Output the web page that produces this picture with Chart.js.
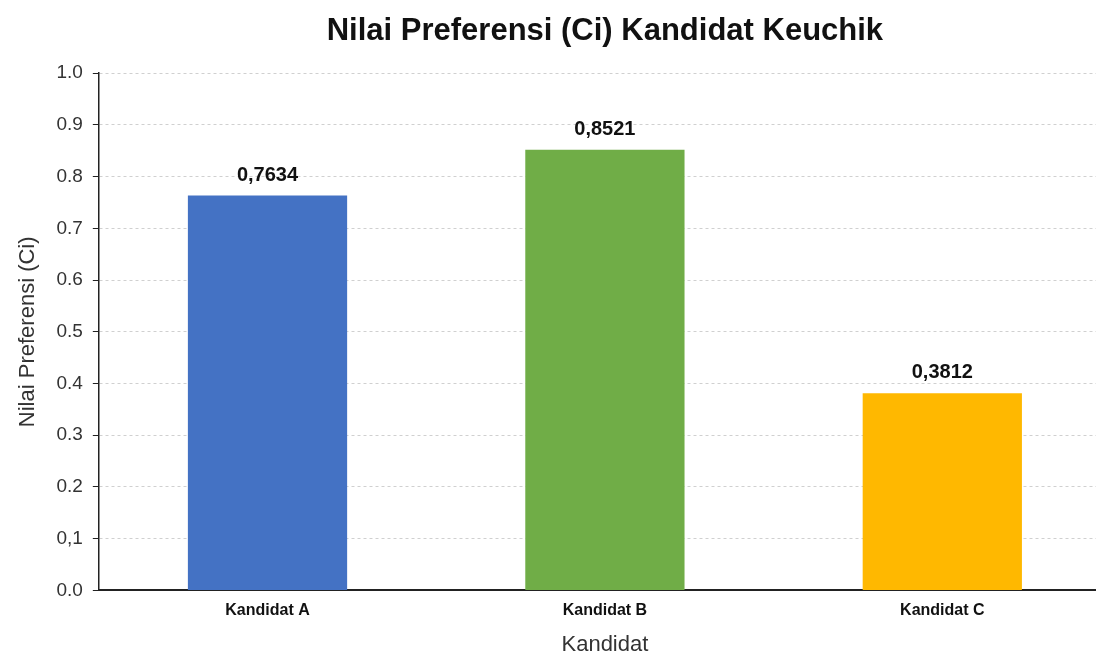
<!DOCTYPE html>
<html>
<head>
<meta charset="utf-8">
<script src="https://cdn.jsdelivr.net/npm/chart.js@4.4.1/dist/chart.umd.min.js"></script>
<style>
html,body{margin:0;padding:0;background:#fff;overflow:hidden;width:1096px;height:655px;}
#wrap{width:1111px;height:655px;}
</style>
</head>
<body>
<div id="wrap"><canvas id="c" width="1111" height="655"></canvas></div>
<script>
const categories = ['Kandidat A', 'Kandidat B', 'Kandidat C'];
const values = [0.7634, 0.8521, 0.3812];
const valueLabels = ['0,7634', '0,8521', '0,3812'];
const barColors = ['#4472C4', '#70AD47', '#FFB800'];
const tickLabels = ['0.0', '0,1', '0.2', '0.3', '0.4', '0.5', '0.6', '0.7', '0.8', '0.9', '1.0'];

const FONT = '"Liberation Sans", Arial, Helvetica, sans-serif';

const valueLabelPlugin = {
  id: 'valueLabels',
  afterDatasetsDraw(chart) {
    const ctx = chart.ctx;
    const meta = chart.getDatasetMeta(0);
    ctx.save();
    ctx.font = 'bold 20px ' + FONT;
    ctx.fillStyle = '#111';
    ctx.textAlign = 'center';
    ctx.textBaseline = 'alphabetic';
    meta.data.forEach((bar, i) => {
      ctx.fillText(valueLabels[i], bar.x, bar.y - 15);
    });
    ctx.restore();
  }
};

new Chart(document.getElementById('c'), {
  type: 'bar',
  data: {
    labels: categories,
    datasets: [{
      data: values,
      backgroundColor: barColors,
      borderWidth: 0,
      barPercentage: 0.944,
      categoryPercentage: 0.5
    }]
  },
  options: {
    responsive: false,
    animation: false,
    layout: { padding: { left: 6, right: 0, top: 0, bottom: -3 } },
    plugins: {
      legend: { display: false },
      tooltip: { enabled: false },
      title: {
        display: true,
        fullSize: false,
        text: 'Nilai Preferensi (Ci) Kandidat Keuchik',
        color: '#111',
        font: { family: FONT, size: 31, weight: 'bold' },
        padding: { top: 13, bottom: 23 }
      }
    },
    scales: {
      x: {
        grid: { display: false, drawTicks: false },
        border: { display: true, color: '#222', width: 2 },
        ticks: {
          color: '#111',
          padding: 11,
          font: { family: FONT, size: 16, weight: 'bold' }
        },
        title: {
          display: true,
          text: 'Kandidat',
          color: '#333',
          font: { family: FONT, size: 22 },
          padding: { top: 0, bottom: 0 }
        }
      },
      y: {
        min: 0,
        max: 1,
        ticks: {
          stepSize: 0.1,
          color: '#333',
          padding: 10,
          font: { family: FONT, size: 19 },
          callback: (v, i) => tickLabels[i]
        },
        grid: {
          color: '#d0d0d0',
          lineWidth: 1,
          drawTicks: true,
          tickLength: 6,
          tickColor: '#222',
          tickWidth: 1
        },
        border: { display: true, color: '#222', width: 1.5, dash: [3, 3] },
        title: {
          display: true,
          text: 'Nilai Preferensi (Ci)',
          color: '#333',
          font: { family: FONT, size: 22 },
          padding: { top: 9, bottom: 5 }
        }
      }
    }
  },
  plugins: [valueLabelPlugin]
});
</script>
</body>
</html>
